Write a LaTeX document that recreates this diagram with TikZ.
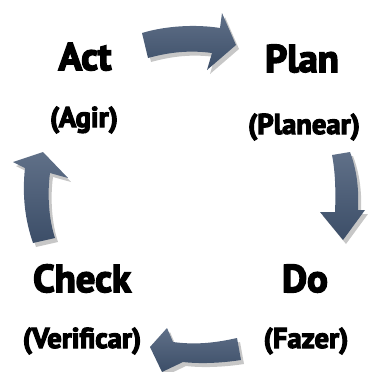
\documentclass[tikz,border=0pt]{standalone}
\usepackage{fontspec}
\setmainfont{PT Sans}[BoldFeatures={FakeBold=4}]

\definecolor{arrowlight}{RGB}{96,112,136}
\definecolor{arrowdark}{RGB}{60,78,104}

\tikzset{
    cyclearrow/.style={top color=arrowlight, bottom color=arrowdark, draw=none},
    arrowshadow/.style={fill=black, opacity=0.22, draw=none},
    stage/.style={anchor=base, font=\fontsize{38.6}{40}\selectfont\bfseries},
    stagesub/.style={anchor=base, font=\fontsize{28.6}{30}\selectfont\bfseries}
}

\begin{document}
\begin{tikzpicture}[x=1pt, y=-1pt]
    \useasboundingbox (0,0) rectangle (367,372);

    % stage labels
    \node [stage] (act) at (85, 70) {Act};
    \node [stagesub] (agir) at (84, 127) {(Agir)};
    \node [stage] (plan) at (302, 72) {Plan};
    \node [stagesub] (planear) at (304, 134) {(Planear)};
    \node [stage] (check) at (82, 292) {Check};
    \node [stagesub] (verificar) at (82, 348) {(Verificar)};
    \node [stage] (do) at (305, 292) {Do};
    \node [stagesub] (fazer) at (306, 348) {(Fazer)};

    % shadows of the arrows
    \begin{scope}[shift={(3,4)}]
        \fill [arrowshadow] (142,33) .. controls (165,26) and (195,24) .. (220,28) -- (222,13) -- (236,45) -- (207,70) -- (212,53) .. controls (190,50) and (170,52) .. (148,58) -- cycle;
        \fill [arrowshadow] (332,155) -- (350,152) .. controls (357,170) and (359,190) .. (358,210) -- (365,210) -- (343,240) -- (320,212) -- (335,212) .. controls (336,190) and (335,170) .. (332,155) -- cycle;
        \fill [arrowshadow] (237,338) .. controls (215,343) and (195,345) .. (173,342) -- (167,328) -- (150,347) -- (162,372) -- (183,362) .. controls (200,364) and (222,363) .. (241,360) -- cycle;
        \fill [arrowshadow] (43,152) -- (68,178) -- (50,173) .. controls (47,195) and (49,220) .. (55,238) -- (33,243) .. controls (25,220) and (22,195) .. (25,168) -- (13,162) -- cycle;
    \end{scope}

    % Plan -> Do -> Check -> Act -> Plan
    \shade [cyclearrow] (142,33) .. controls (165,26) and (195,24) .. (220,28) -- (222,13) -- (236,45) -- (207,70) -- (212,53) .. controls (190,50) and (170,52) .. (148,58) -- cycle;
    \shade [cyclearrow] (332,155) -- (350,152) .. controls (357,170) and (359,190) .. (358,210) -- (365,210) -- (343,240) -- (320,212) -- (335,212) .. controls (336,190) and (335,170) .. (332,155) -- cycle;
    \shade [cyclearrow] (237,338) .. controls (215,343) and (195,345) .. (173,342) -- (167,328) -- (150,347) -- (162,372) -- (183,362) .. controls (200,364) and (222,363) .. (241,360) -- cycle;
    \shade [cyclearrow] (43,152) -- (68,178) -- (50,173) .. controls (47,195) and (49,220) .. (55,238) -- (33,243) .. controls (25,220) and (22,195) .. (25,168) -- (13,162) -- cycle;
\end{tikzpicture}
\end{document}
